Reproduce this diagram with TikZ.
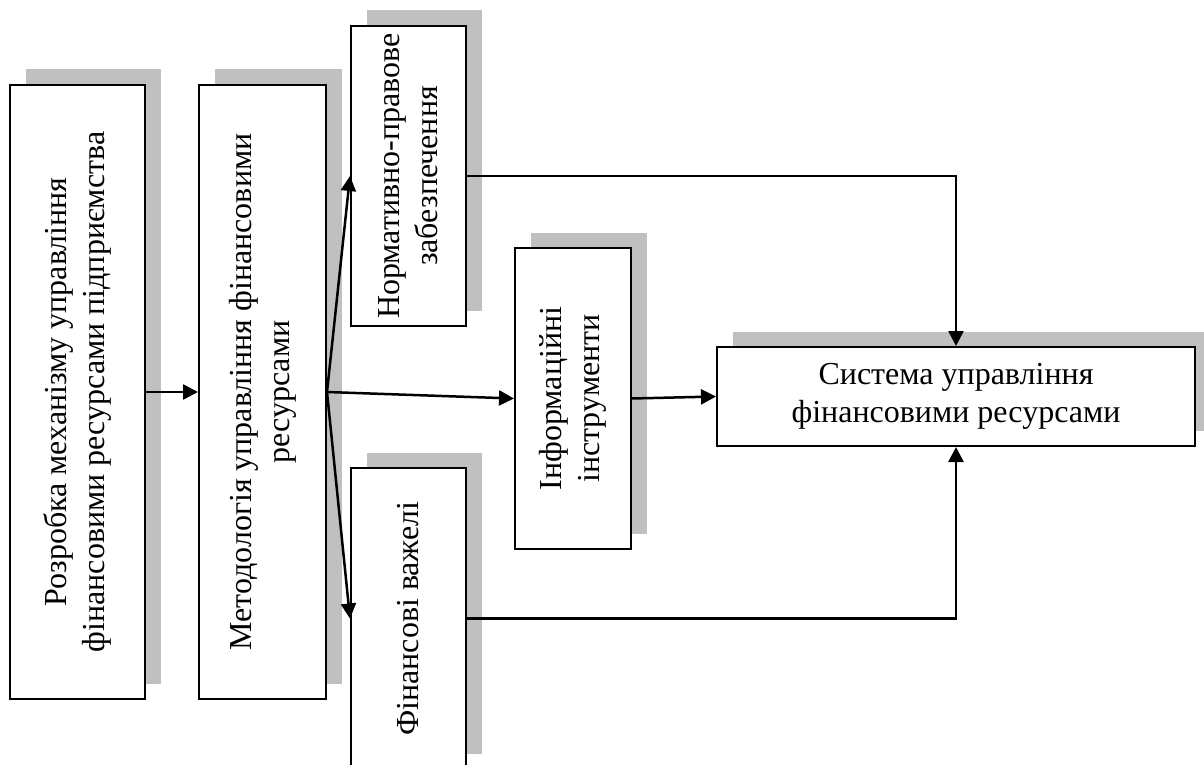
\documentclass[tikz,border=0pt]{standalone}
\usepackage{fontspec}
\setmainfont{Liberation Serif}
\usetikzlibrary{arrows.meta,shadows}
\definecolor{shadowgray}{RGB}{192,192,192}
\tikzset{
  box/.style={draw, line width=1pt, fill=white, inner sep=0pt,
    general shadow={fill=shadowgray, shadow xshift=8pt, shadow yshift=7.75pt}},
  txt/.style={align=center, inner sep=0pt, font=\fontsize{16}{18.9}\selectfont},
  rtxt/.style={txt, rotate=90},
  conn/.style={line width=1.25pt, -{Triangle[length=7.5pt,width=7.5pt]}}
}
\begin{document}
\begin{tikzpicture}[x=0.5pt,y=-0.5pt]
\useasboundingbox (0,0) rectangle (1204,765);
\clip (0,0) rectangle (1204,765);
% boxes
\node[box, minimum width=67.5pt, minimum height=307pt] (b1) at (77.5,392) {};
\node[box, minimum width=63.5pt, minimum height=307pt] (b2) at (262.5,392) {};
\node[box, minimum width=57.5pt, minimum height=150pt] (b3) at (408.5,176) {};
\node[box, minimum width=58pt, minimum height=150.5pt] (b4) at (573,398.5) {};
\node[box, minimum width=57.5pt, minimum height=150.5pt] (b5) at (408.5,618.5) {};
\node[box, minimum width=239pt, minimum height=49.5pt] (b6) at (956,396.5) {};
% texts
\node[rtxt] (t1) at (b1.center) {Розробка механізму управління\\фінансовими ресурсами підприємства};
\node[rtxt] (t2) at (b2.center) {Методологія управління фінансовими\\ресурсами};
\node[rtxt] (t3) at (b3.center) {Нормативно-правове\\забезпечення};
\node[rtxt] (t4) at (b4.center) {Інформаційні\\інструменти};
\node[rtxt] (t5) at (b5.center) {Фінансові важелі};
\node[txt] (t6) at (b6.center) {Система управління\\фінансовими ресурсами};
% connectors
\draw[conn] (b1.east) -- (b2.west);
\draw[conn] (b2.east) -- (b3.west);
\draw[conn] (b2.east) -- (b4.west);
\draw[conn] (b2.east) -- (b5.west);
\draw[conn] (b4.east) -- (b6.west);
\draw[conn] (b3.east) -| (b6.north);
\draw[conn] (b5.east) -| (b6.south);
\end{tikzpicture}
\end{document}
